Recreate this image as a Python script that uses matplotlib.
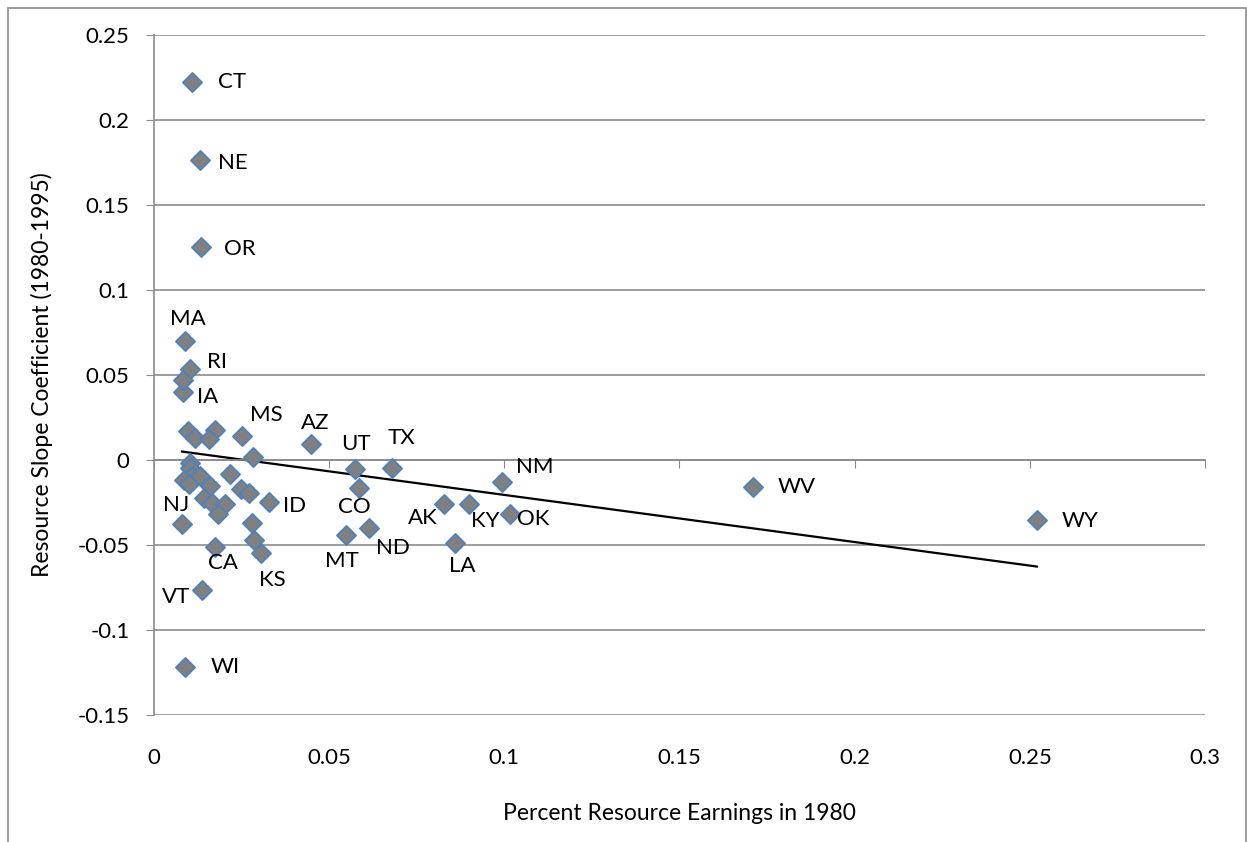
import numpy as np
import matplotlib
matplotlib.use("Agg")
import matplotlib.pyplot as plt
from matplotlib.patches import Rectangle

plt.rcParams["font.family"] = ["Lato", "DejaVu Sans"]

# labelled states: share of resource earnings 1980, slope coefficient
states = ["CT", "NE", "OR", "MA", "RI", "IA", "MS", "AZ", "UT", "TX", "NM",
          "WV", "WY", "NJ", "ID", "CO", "AK", "KY", "OK", "ND", "MT", "LA",
          "CA", "KS", "VT", "WI"]
x_lab = [0.0109, 0.0130, 0.0135, 0.0088, 0.0102, 0.0082, 0.0252, 0.0447,
         0.0575, 0.0679, 0.0993, 0.1710, 0.2520, 0.0080, 0.0328, 0.0584,
         0.0827, 0.0898, 0.1015, 0.0613, 0.0548, 0.0860, 0.0173, 0.0306,
         0.0136, 0.0089]
y_lab = [0.2225, 0.1763, 0.1256, 0.0700, 0.0535, 0.0403, 0.0140, 0.0093,
         -0.0055, -0.0045, -0.0130, -0.0159, -0.0354, -0.0375, -0.0248,
         -0.0163, -0.0257, -0.0261, -0.0316, -0.0399, -0.0442, -0.0487,
         -0.0513, -0.0546, -0.0763, -0.1215]
# label offsets in pixels (dx right, dy up)
lab_dx = [40, 33, 39, 3, 27, 25, 24, 5, 0, 10, 33, 44, 43, -6, 26, -4, -21,
          17, 24, 24, -4, 7, 8, 11, -26, 40]
lab_dy = [0, -3, -2, 22, 7, -5, 21, 21, 25, 30, 15, 0, -1, 19, -4, -19, -14,
          -17, -5, -20, -26, -23, -16, -27, -7, 0]

# unlabelled states in the cluster
x_other = [0.0082, 0.0098, 0.0116, 0.0175, 0.0156, 0.0282, 0.0104, 0.0104,
           0.0109, 0.0085, 0.0099, 0.0131, 0.0216, 0.0161, 0.0142, 0.0166,
           0.0204, 0.0182, 0.0247, 0.0270, 0.0280, 0.0285]
y_other = [0.0470, 0.0171, 0.0128, 0.0175, 0.0122, 0.0018, -0.0016, -0.0045,
           -0.0094, -0.0120, -0.0143, -0.0094, -0.0081, -0.0153, -0.0222,
           -0.0251, -0.0257, -0.0316, -0.0173, -0.0193, -0.0370, -0.0468]

x_ticks = [0, 0.05, 0.1, 0.15, 0.2, 0.25, 0.3]
y_ticks = [-0.15, -0.1, -0.05, 0, 0.05, 0.1, 0.15, 0.2, 0.25]


def main():
    fig = plt.figure(figsize=(12.47, 8.42), dpi=100)
    fig.patches.append(Rectangle((0.0064, -0.01), 0.9928, 1.0, transform=fig.transFigure,
                                 fill=False, ec="#8c8c8c", lw=1.2))
    ax = fig.add_axes([0.1235, 0.1508, 0.8428, 0.8076])

    all_x = np.array(x_lab + x_other)
    all_y = np.array(y_lab + y_other)
    slope, icpt = np.polyfit(all_x, all_y, 1)
    xs = np.array([all_x.min(), all_x.max()])
    ax.plot(xs, slope * xs + icpt, color="black", lw=1.6, zorder=2)

    ax.scatter(all_x, all_y, marker="D", s=95, c="#808080",
               edgecolors="#4f81bd", linewidths=1.3, zorder=3)

    for name, xv, yv, dx, dy in zip(states, x_lab, y_lab, lab_dx, lab_dy):
        ax.annotate(name, (xv, yv), xytext=(dx * 0.72, dy * 0.72),
                    textcoords="offset points", ha="center", va="center",
                    fontsize=16)

    ax.set_xlim(0, 0.3)
    ax.set_ylim(-0.15, 0.25)
    ax.set_yticks(y_ticks)
    ax.set_yticklabels([f"{v:g}" for v in y_ticks])
    ax.set_xticks(x_ticks)
    ax.yaxis.grid(True, color="#8c8c8c", lw=1.2)
    ax.set_axisbelow(True)

    for side in ["top", "right"]:
        ax.spines[side].set_visible(False)
    ax.spines["left"].set_color("#8c8c8c")
    ax.spines["left"].set_linewidth(1.2)
    ax.spines["bottom"].set_position(("data", 0))
    ax.spines["bottom"].set_color("#8c8c8c")
    ax.spines["bottom"].set_linewidth(1.2)
    ax.tick_params(axis="x", direction="out", length=6, color="#8c8c8c",
                   labelbottom=False)
    ax.tick_params(axis="y", direction="out", length=6, color="#8c8c8c",
                   labelsize=16, pad=11.5)

    sec = ax.secondary_xaxis(0)
    sec.set_xticks(x_ticks)
    sec.set_xticklabels([f"{v:g}" for v in x_ticks])
    sec.spines["bottom"].set_visible(False)
    sec.tick_params(length=0, labelsize=16, pad=24)

    sec.set_xlabel("Percent Resource Earnings in 1980", fontsize=16.5, labelpad=25)
    ax.set_ylabel("Resource Slope Coefficient (1980-1995)", fontsize=16.5, labelpad=18)

    fig.savefig("out.png", dpi=100)


if __name__ == "__main__":
    main()
